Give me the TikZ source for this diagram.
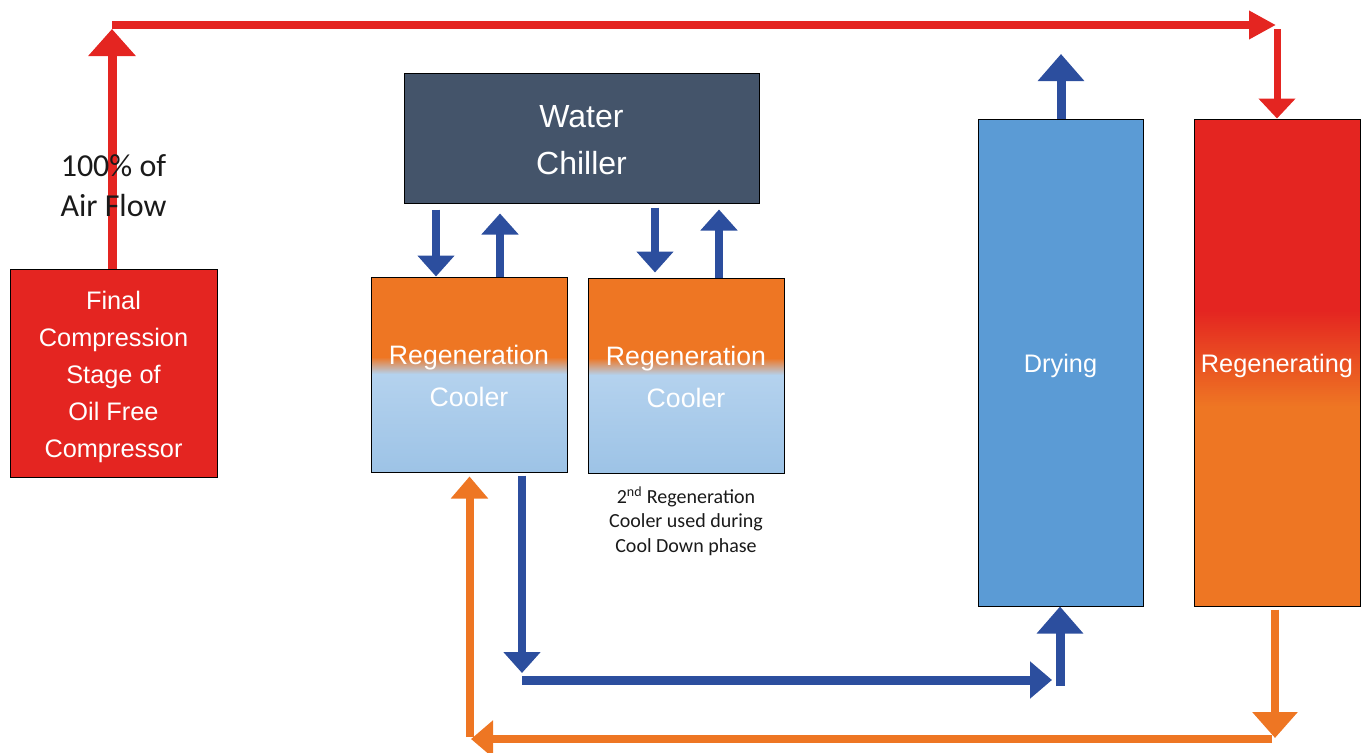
\documentclass[tikz,border=0pt]{standalone}
\usepackage{fontspec}
\setmainfont{Liberation Sans}
\newfontfamily\calib{Carlito}
\usetikzlibrary{arrows.meta,calc}
\definecolor{cred}{HTML}{E42521}
\definecolor{corange}{HTML}{EE7623}
\definecolor{cblue}{HTML}{2C4E9E}
\definecolor{cdry}{HTML}{5B9BD5}
\definecolor{cchill}{HTML}{44546A}
\definecolor{clb1}{HTML}{B4D2EE}
\definecolor{clb2}{HTML}{9DC3E6}
\definecolor{ctext}{HTML}{1A1A1A}
\begin{document}
\begin{tikzpicture}[x=0.75pt,y=-0.75pt,
  box/.style={draw=black, line width=0.75pt, inner sep=0pt},
  boxtext/.style={text=white, align=center, inner sep=0pt},
  regenfill/.style={path picture={
    \fill[cred] (path picture bounding box.north west) rectangle ([yshift=-143.5pt]path picture bounding box.north east);
    \foreach \i in {0,...,48}{
      \pgfmathsetmacro\pc{100-\i*100/48}
      \fill[cred!\pc!corange] ([yshift=-143.25pt-\i*1.5pt]path picture bounding box.north west)
        rectangle ([yshift=-145.1pt-\i*1.5pt]path picture bounding box.north east);}
    \fill[corange] ([yshift=-216pt]path picture bounding box.north west) rectangle (path picture bounding box.south east);}},
  coolfill/.style={path picture={
    \fill[corange] (path picture bounding box.north west) rectangle ([yshift=-60.25pt]path picture bounding box.north east);
    \foreach \i in {0,...,17}{
      \pgfmathsetmacro\pc{100-\i*100/17}
      \fill[corange!\pc!clb1] ([yshift=-60pt-\i*0.75pt]path picture bounding box.north west)
        rectangle ([yshift=-61.1pt-\i*0.75pt]path picture bounding box.north east);}
    \shade[top color=clb1, bottom color=clb2] ([yshift=-73.3pt]path picture bounding box.north west) rectangle (path picture bounding box.south east);}},
  blk/.style args={#1/#2/#3/#4}{draw=#1, line width=#2, line cap=butt, -{Triangle[width=#3,length=#4]}},
  redup/.style={blk=cred/6.75pt/34.5pt/20.25pt},
  redh/.style={blk=cred/6pt/20.25pt/20.25pt},
  reddn/.style={blk=cred/5.25pt/27pt/15pt},
  bluesm/.style={blk=cblue/6pt/27pt/15.75pt},
  bluebig/.style={blk=cblue/6.75pt/33.75pt/20.25pt},
  blueh/.style={blk=cblue/6.75pt/27pt/16.5pt},
  orsm/.style={blk=corange/6pt/27pt/16.5pt},
  orbig/.style={blk=corange/6pt/33pt/19.5pt},
  lbl/.style={font=\calib\fontsize{24}{30}\selectfont, text=ctext, align=center}
]
\useasboundingbox (0,0) rectangle (1365,753);

% boxes
\node[box, fill=cred, minimum width=155.25pt, minimum height=156pt] (comp) at (113.5,373) {};
\node[box, fill=cchill, minimum width=266.25pt, minimum height=97.5pt] (chill) at (581.5,138) {};
\node[box, coolfill, minimum width=147pt, minimum height=146.25pt] (cool1) at (469,374.5) {};
\node[box, coolfill, minimum width=147pt, minimum height=146.25pt] (cool2) at (686,375.5) {};
\node[box, fill=cdry, minimum width=123.75pt, minimum height=365.25pt] (dry) at (1060.5,362.5) {};
\node[box, regenfill, minimum width=124.5pt, minimum height=365.25pt] (regen) at (1277,362.5) {};

% box texts
\node[boxtext, font=\fontsize{19}{27.75}\selectfont] (compt) at ([yshift=-3pt]comp.center)
  {Final\\Compression\\Stage of\\Oil Free\\Compressor};
\node[boxtext, font=\fontsize{24}{35}\selectfont] (chillt) at ([yshift=-1.5pt]chill.center) {Water\\Chiller};
\node[boxtext, font=\fontsize{20}{31.5}\selectfont] (cool1t) at ([yshift=-0.75pt]cool1.center) {Regeneration\\Cooler};
\node[boxtext, font=\fontsize{20}{31.5}\selectfont] (cool2t) at ([yshift=-0.75pt]cool2.center) {Regeneration\\Cooler};
\node[boxtext, font=\fontsize{19}{24}\selectfont] (dryt) at ([yshift=-2.25pt]dry.center) {Drying};
\node[boxtext, font=\fontsize{19}{24}\selectfont] (regent) at ([yshift=-2.25pt]regen.center) {Regenerating};

% coordinates
\coordinate (r0) at (112,25);
\coordinate (r1) at (112,29);
\coordinate (r2) at (1276,25);
\coordinate (r3) at (1277,29);
\coordinate (b1) at (436,0);
\coordinate (b2) at (500,0);
\coordinate (b3) at (655,0);
\coordinate (b4) at (719,0);
\coordinate (d1) at (1061,54);
\coordinate (b5) at (522,673);
\coordinate (b6) at (522,680);
\coordinate (b7) at (1052,680);
\coordinate (b8) at (1060,686);
\coordinate (o1) at (1275,738);
\coordinate (o2) at (1272,739);
\coordinate (o3) at (471,739);
\coordinate (o4) at (469.5,737);

% red air path
\draw[redup] (comp.north -| r1) -- (r1);
\draw[redh] (r0) -- (r2);
\draw[reddn] (r3) -- (regen.north);

% chiller loops
\draw[bluesm] ([yshift=-4.5pt]chill.south -| b1) -- (cool1.north -| b1);
\draw[bluesm] (cool1.north -| b2) -- ([yshift=-7.5pt]chill.south -| b2);
\draw[bluesm] ([yshift=-3pt]chill.south -| b3) -- ([yshift=3.75pt]cool2.north -| b3);
\draw[bluesm] (cool2.north -| b4) -- ([yshift=-4.5pt]chill.south -| b4);

% drying outlet
\draw[bluebig] (dry.north -| d1) -- (d1);

% cooled air to drying
\draw[bluesm] ([yshift=-2.25pt]cool1.south -| b5) -- (b5);
\draw[blueh] (b6) -- (b7);
\draw[bluebig] (b8) -- (dry.south -| b8);

% regeneration return
\draw[orbig] ([yshift=-2.25pt]regen.south -| o1) -- (o1);
\draw[orsm] (o2) -- (o3);
\draw[orsm] (o4) -- ([yshift=-3pt]cool1.south -| o4);

% labels
\node[lbl] (flow) at (113.5,186) {100\% of\\Air Flow};
\node[font=\calib\fontsize{15}{18.4}\selectfont, text=ctext, align=center] (note) at (686,521)
  {2\textsuperscript{nd} Regeneration\\Cooler used during\\Cool Down phase};
\end{tikzpicture}
\end{document}
